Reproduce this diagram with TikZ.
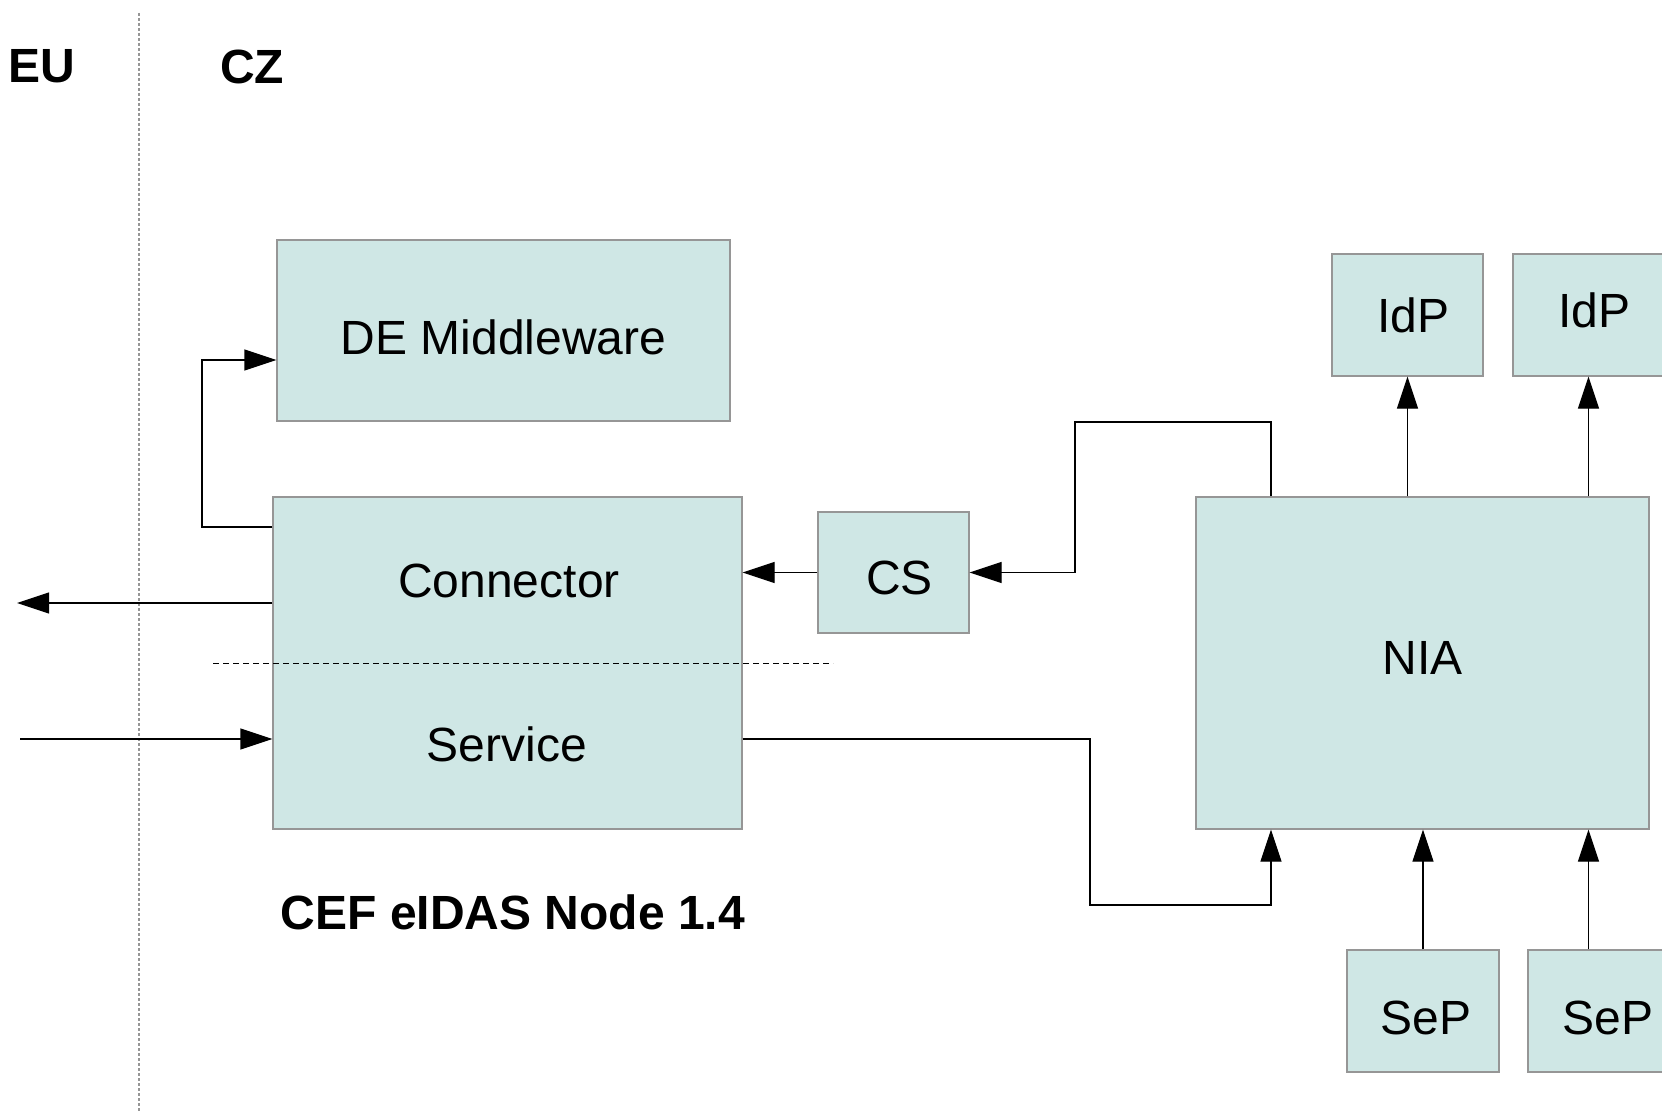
\documentclass[tikz,border=0pt]{standalone}
\usepackage{fontspec}
\setmainfont{Liberation Sans}
\usetikzlibrary{arrows.meta}
\definecolor{boxfill}{RGB}{207,231,229}
\definecolor{boxline}{RGB}{150,150,150}
\tikzset{
  block/.style={draw=boxline, fill=boxfill, line width=0.6pt, inner sep=0pt,
    font=\fontsize{24}{28}\selectfont},
  lbl/.style={inner sep=0pt, font=\fontsize{24}{28}\selectfont},
  title/.style={inner sep=0pt, font=\fontsize{24}{28}\selectfont\bfseries},
  wire/.style={line width=0.6pt, -{Triangle[length=16pt,width=10.5pt]}},
}
\begin{document}
\begin{tikzpicture}[x=0.5pt,y=-0.5pt]
\useasboundingbox (0,0) rectangle (1662,1113);
\clip (0,0) rectangle (1662,1113);
% country border
\draw[boxline, line width=0.6pt, dash pattern=on 1.5pt off 1pt] (139,13) -- (139,1111);
\node[title] (eu) at (42,66) {EU};
\node[title] (cz) at (252,67) {CZ};
% eIDAS node
\node[block, minimum width=226.5pt, minimum height=90.5pt,
  label={[lbl,yshift=-3.2pt]center:DE Middleware}] (mw) at (503.5,330.5) {};
\node[block, minimum width=234.5pt, minimum height=166pt] (eidas) at (507.5,663) {};
\node[lbl] (conn) at (509,581) {Connector};
\node[lbl] (serv) at (507,744) {Service};
\draw[line width=0.5pt, dash pattern=on 3pt off 2pt] (213,663) -- (833,663);
\node[title] (cef) at (513,912) {CEF eIDAS Node 1.4};
\node[block, minimum width=75.5pt, minimum height=60.5pt,
  label={[lbl,xshift=3pt,yshift=-2.7pt]center:CS}] (cs) at (893.5,572.5) {};
% NIA side
\node[block, minimum width=226.5pt, minimum height=166pt,
  label={[lbl,yshift=2.7pt]center:NIA}] (nia) at (1422.5,663) {};
\node[block, minimum width=75.5pt, minimum height=61pt,
  label={[lbl,xshift=3pt]center:IdP}] (idp1) at (1407.5,315) {};
\node[block, minimum width=75.5pt, minimum height=61pt,
  label={[lbl,xshift=3pt,yshift=2.5pt]center:IdP}] (idp2) at (1588.5,315) {};
\node[block, minimum width=76pt, minimum height=61pt,
  label={[lbl,xshift=1.5pt,yshift=-3.7pt]center:SeP}] (sep1) at (1423,1011) {};
\node[block, minimum width=76pt, minimum height=61pt,
  label={[lbl,xshift=2pt,yshift=-3.7pt]center:SeP}] (sep2) at (1604,1011) {};
% connectors
\coordinate (out) at (17,603);
\coordinate (in) at (20,739);
\draw[wire] (eidas.west |- 0,527) -| (202,360) -- (mw.west |- 0,360);
\draw[wire] (eidas.west |- out) -- (out);
\draw[wire] (in) -- (eidas.west |- in);
\draw[wire] (cs.west) -- (eidas.east |- cs.west);
\draw[wire] (nia.north -| 1271,0) |- (1075,422) |- (cs.east);
\draw[wire] (eidas.east |- 0,739) -| (1090,905) -| (nia.south -| 1271,0);
\draw[wire] (nia.north -| idp1) -- (idp1.south);
\draw[wire] (nia.north -| idp2) -- (idp2.south);
\draw[wire] (sep1.north) -- (nia.south -| sep1);
\draw[wire] (sep2.north -| idp2) -- (nia.south -| idp2);
\end{tikzpicture}
\end{document}
